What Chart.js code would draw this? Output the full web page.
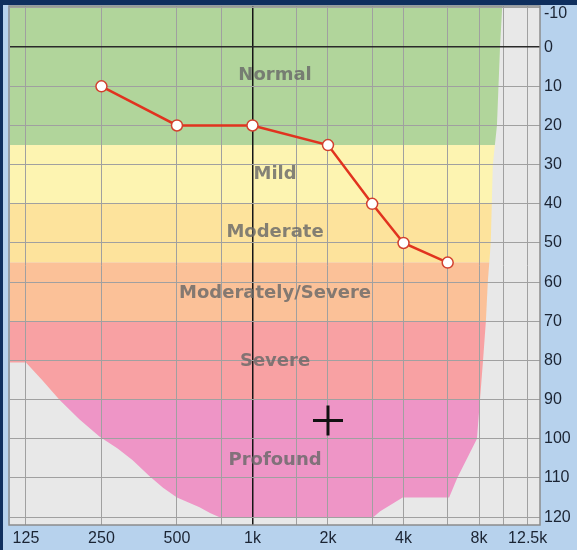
<!DOCTYPE html>
<html>
<head>
<meta charset="utf-8">
<script src="https://cdn.jsdelivr.net/npm/chart.js@4.4.1/dist/chart.umd.min.js"></script>
<style>
  html, body { margin: 0; padding: 0; background: #b7d2ed; }
  #wrap { width: 577px; height: 550px; position: relative; }
</style>
</head>
<body>
<div id="wrap"><canvas id="audiogram"></canvas></div>
<script>
// audiogram — hearing thresholds over severity bands

const xTicks      = [125, 250, 500, 750, 1000, 1500, 2000, 3000, 4000, 6000, 8000, 10000, 12500];
const xTickLabels = ['125', '250', '500', '', '1k', '', '2k', '', '4k', '', '8k', '', '12.5k'];
const yTicks      = [-10, 0, 10, 20, 30, 40, 50, 60, 70, 80, 90, 100, 110, 120];

// measured thresholds (dB HL)
const freqs      = [250, 500, 1000, 2000, 3000, 4000, 6000];
const thresholds = [10, 20, 20, 25, 40, 50, 55];

// severity bands
const bandNames   = ['Normal', 'Mild', 'Moderate', 'Moderately/Severe', 'Severe', 'Profound'];
const bandTops    = [-10.5, 25, 40, 55, 70, 90];
const bandBottoms = [25, 40, 55, 70, 90, 120];
const bandLabelDb = [7.3, 32.6, 47.4, 62.8, 80.3, 105.6];
const bandColors  = ['#b1d59b', '#fdf4b1', '#fde39c', '#fbc198', '#f8a1a3', '#ee95c6'];
const bandLabelHz = 1230;

// outline of the shaded region (frequency, level)
const envFreqs  = [108, 9900, 9700, 9430, 9080, 8910, 8670, 8520, 8300, 8070, 7850, 6550, 6080, 3970, 3230, 3030,
                   740, 680, 615, 500, 440, 388, 333, 290, 246, 204, 170, 145, 125, 108];
const envLevels = [-10.5, -10.5, 0, 20, 30, 50, 60, 70, 80, 90, 100, 110, 115, 115, 118.5, 120,
                   120, 119, 117.5, 115, 112.5, 109.5, 105.5, 102.5, 99.5, 95, 90, 85, 80.5, 80.5];

// cursor marker
const cursorHz = [2000];
const cursorDb = [95.3];

const TICK_FONT = '16px "Liberation Sans", Arial, sans-serif';
const TICK_COLOR = '#1b2433';

const bandsPlugin = {
  id: 'bands',
  beforeDraw(chart) {
    const { ctx, chartArea: a, scales: { x, y } } = chart;
    ctx.save();
    ctx.fillStyle = '#b7d2ed';
    ctx.fillRect(0, 0, chart.width, chart.height);
    ctx.fillStyle = '#0f2f5e';
    ctx.fillRect(0, 0, chart.width, 5);
    ctx.fillRect(0, 0, 3, chart.height);

    ctx.fillStyle = '#e8e8e8';
    ctx.fillRect(a.left, a.top, a.right - a.left, a.bottom - a.top);

    ctx.beginPath();
    envFreqs.forEach((f, i) => {
      const px = x.getPixelForValue(f), py = y.getPixelForValue(envLevels[i]);
      if (i === 0) ctx.moveTo(px, py); else ctx.lineTo(px, py);
    });
    ctx.closePath();
    ctx.clip();
    bandNames.forEach((_, i) => {
      const t = y.getPixelForValue(bandTops[i]);
      const b = y.getPixelForValue(bandBottoms[i]);
      ctx.fillStyle = bandColors[i];
      ctx.fillRect(a.left, t, a.right - a.left, b - t);
    });
    ctx.restore();
  },
  beforeDatasetsDraw(chart) {
    const { ctx, scales: { x, y } } = chart;
    ctx.save();
    ctx.font = 'bold 18px "DejaVu Sans", sans-serif';
    ctx.fillStyle = 'rgba(105,105,105,0.82)';
    ctx.textAlign = 'center';
    ctx.textBaseline = 'middle';
    bandNames.forEach((n, i) => {
      ctx.fillText(n, x.getPixelForValue(bandLabelHz), y.getPixelForValue(bandLabelDb[i]));
    });
    ctx.restore();
  },
  afterDraw(chart) {
    const { ctx, chartArea: a, scales: { y } } = chart;
    ctx.save();
    ctx.strokeStyle = '#8c8c8c';
    ctx.lineWidth = 1.5;
    ctx.strokeRect(a.left - 1, a.top, a.right - a.left + 1, a.bottom - a.top);
    // top tick label sits a little lower so it clears the frame
    ctx.font = TICK_FONT;
    ctx.fillStyle = TICK_COLOR;
    ctx.textAlign = 'left';
    ctx.textBaseline = 'middle';
    ctx.fillText(String(yTicks[0]), a.right + 4, y.getPixelForValue(yTicks[0]) + 6);
    ctx.restore();
  }
};

const noPad = s => { s.paddingTop = 0; s.paddingBottom = 0; s.paddingLeft = 0; s.paddingRight = 0; };

new Chart(document.getElementById('audiogram'), {
  type: 'scatter',
  data: {
    datasets: [
      {
        label: 'Threshold',
        data: freqs.map((f, i) => ({ x: f, y: thresholds[i] })),
        showLine: true,
        borderColor: '#e1331f',
        borderWidth: 2.5,
        pointRadius: 5.5,
        pointBackgroundColor: '#ffffff',
        pointBorderColor: '#d2402e',
        pointBorderWidth: 1.5,
      },
      {
        label: 'Cursor',
        data: cursorHz.map((f, i) => ({ x: f, y: cursorDb[i] })),
        pointStyle: 'cross',
        pointRadius: 15,
        borderColor: '#111111',
        borderWidth: 3,
      }
    ]
  },
  options: {
    responsive: true,
    maintainAspectRatio: false,
    animation: false,
    devicePixelRatio: 1,
    layout: { autoPadding: false, padding: { left: 10, top: 6, right: 0, bottom: 0 } },
    plugins: { legend: { display: false }, tooltip: { enabled: false } },
    scales: {
      x: {
        type: 'logarithmic',
        min: 108,
        max: 14000,
        afterBuildTicks: s => { s.ticks = xTicks.map(v => ({ value: v })); },
        afterFit: s => { s.height = 25; noPad(s); },
        grid: {
          color: c => (c.tick && c.tick.value === 1000) ? '#151515' : '#a0a0a0',
          lineWidth: c => (c.tick && c.tick.value === 1000) ? 1.5 : 1,
          drawTicks: false,
        },
        border: { display: false },
        ticks: {
          autoSkip: false,
          maxRotation: 0,
          padding: 4,
          color: TICK_COLOR,
          font: { family: '"Liberation Sans", Arial, sans-serif', size: 16 },
          callback: v => xTickLabels[xTicks.indexOf(v)] ?? '',
        },
      },
      y: {
        position: 'right',
        reverse: true,
        min: -10.5,
        max: 122,
        afterBuildTicks: s => { s.ticks = yTicks.map(v => ({ value: v })); },
        afterFit: s => { s.width = 37; noPad(s); },
        grid: {
          color: c => (c.tick && c.tick.value === 0) ? '#2a2a2a' : '#a0a0a0',
          lineWidth: c => (c.tick && c.tick.value === 0) ? 1.5 : 1,
          drawTicks: false,
        },
        border: { display: false },
        ticks: {
          padding: 4,
          color: TICK_COLOR,
          font: { family: '"Liberation Sans", Arial, sans-serif', size: 16 },
          callback: v => (v === yTicks[0] ? '' : String(v)),
        },
      }
    }
  },
  plugins: [bandsPlugin]
});
</script>
</body>
</html>
